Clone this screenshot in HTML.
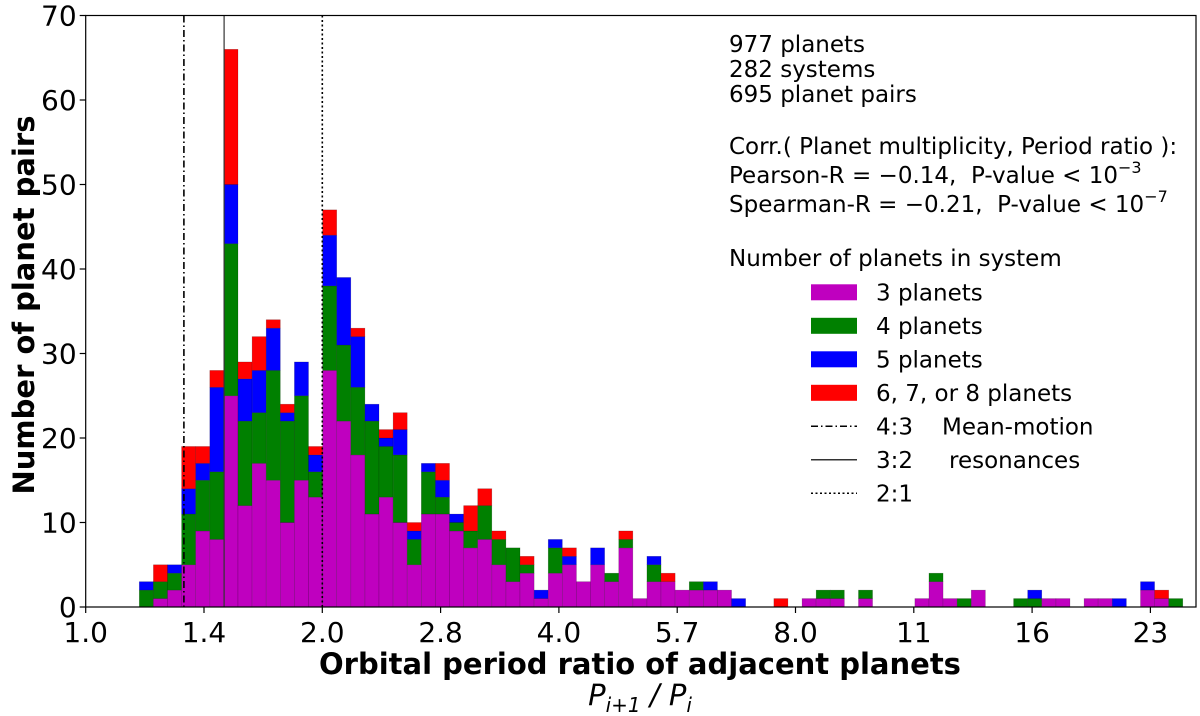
<!DOCTYPE html>
<html><head><meta charset="utf-8">
<style>
html,body{margin:0;padding:0;background:#fff;}
svg{display:block;font-family:"DejaVu Sans","Liberation Sans",sans-serif;}
</style></head>
<body>
<svg id="chart" width="1200" height="716" viewBox="0 0 1200 716" xmlns="http://www.w3.org/2000/svg">
<g id="bars"></g>
<g id="lines"></g>
<g id="axes"></g>
<g id="legend"></g>
</svg>
<script>
// Data: counts per log-spaced bin (74 bins), by planet multiplicity
const binCount = 74;
const binLog2Start = 0.2265;   // log2 of left edge of first bin
const binLog2Width = 0.0596;   // log2 width of each bin
const threePlanets = [0,1,2,5,9,8,25,12,17,15, 10,15,13,28,22,18,11,13,10,5, 11,11,9,7,8,5,3,4,1,4, 5,3,5,3,7,1,3,3,2,2, 2,2,0,0,0,0,0,1,1,1, 0,1,0,0,0,1,3,1,0,2, 0,0,0,0,1,1,0,1,1,0, 0,2,1,0];
const fourPlanets  = [2,2,2,6,6,8,18,10,6,13, 12,10,3,10,9,8,11,6,8,3, 5,2,1,2,4,3,4,1,0,3, 0,0,0,1,1,0,2,0,0,1, 0,0,0,0,0,0,0,0,1,1, 0,1,0,0,0,0,1,0,1,0, 0,0,1,1,0,0,0,0,0,0, 0,0,0,1];
const fivePlanets  = [1,0,1,3,2,10,7,5,5,5, 1,4,2,6,8,6,2,1,3,1, 1,2,1,0,0,0,0,0,1,1, 1,0,2,0,0,0,1,0,0,0, 1,0,1,0,0,0,0,0,0,0, 0,0,0,0,0,0,0,0,0,0, 0,0,0,1,0,0,0,0,0,1, 0,1,0,0];
const sixPlusPlanets = [0,2,0,5,2,2,16,2,4,1, 1,0,1,3,0,1,0,1,2,1, 0,2,0,3,2,1,0,1,0,0, 1,0,0,0,1,0,0,1,0,0, 0,0,0,0,0,1,0,0,0,0, 0,0,0,0,0,0,0,0,0,0, 0,0,0,0,0,0,0,0,0,0, 0,0,1,0];
const seriesNames = ["3 planets","4 planets","5 planets","6, 7, or 8 planets"];
const seriesColors = ["#bf00bf","#008000","#0000ff","#ff0000"];
const yTicks = [0,10,20,30,40,50,60,70];
const xTickValues = [1.0,1.4142,2.0,2.8284,4.0,5.6569,8.0,11.3137,16.0,22.6274];
const xTickLabels = ["1.0","1.4","2.0","2.8","4.0","5.7","8.0","11","16","23"];
const resonances = [4/3, 3/2, 2];
const resonanceLabels = ["4:3","3:2","2:1"];

const NS="http://www.w3.org/2000/svg";
const X0=85.7, PXLOG=236.6, XR=1196, Y0=607, PXU=8.45, YTOP=Y0-70*PXU;
function xl(l){return X0+PXLOG*l;}
function x(r){return xl(Math.log2(r));}
function y(v){return Y0-v*PXU;}
function mk(tag,attrs,parent){const e=document.createElementNS(NS,tag);for(const k in attrs)e.setAttribute(k,attrs[k]);parent.appendChild(e);return e;}

const bars=document.getElementById('bars');
const series=[threePlanets,fourPlanets,fivePlanets,sixPlusPlanets];
for(let k=0;k<binCount;k++){
  const xa=xl(binLog2Start+k*binLog2Width), xb=xl(binLog2Start+(k+1)*binLog2Width);
  let base=0;
  for(let s=0;s<4;s++){
    const v=series[s][k]||0;
    if(v>0){
      const r=mk('rect',{x:xa,y:y(base+v),width:xb-xa,height:v*PXU,fill:seriesColors[s],stroke:'rgba(0,0,0,0.25)','stroke-width':0.6},bars);
      
      
    }
    base+=v;
  }
}

const lines=document.getElementById('lines');
const dashes=["7,3,1.5,3","none","2,2.5"];
for(let i=0;i<resonances.length;i++){
  const l=mk('line',{x1:x(resonances[i]),x2:x(resonances[i]),y1:YTOP,y2:Y0,stroke:i==1?'#333':'#000','stroke-width':i==1?1.2:1.6,'stroke-dasharray':dashes[i]},lines);
  
  
}

const axes=document.getElementById('axes');
const frame=mk('rect',{x:X0,y:YTOP,width:XR-X0,height:Y0-YTOP,fill:'none',stroke:'#000','stroke-width':1.2},axes);


for(const t of yTicks){
  mk('line',{x1:X0-6,x2:X0,y1:y(t),y2:y(t),stroke:'#000','stroke-width':1.2},axes);
  const tx=mk('text',{x:X0-9,y:y(t)+10,'text-anchor':'end','font-size':28},axes);
  tx.textContent=t;
  
  
}
for(let i=0;i<xTickValues.length;i++){
  const px=x(xTickValues[i]);
  mk('line',{x1:px,x2:px,y1:Y0,y2:Y0+6,stroke:'#000','stroke-width':1.2},axes);
  const tx=mk('text',{x:px,y:642,'text-anchor':'middle','font-size':28},axes);
  tx.textContent=xTickLabels[i];
  
  
}
</script>
<script>
(function(){
const NS="http://www.w3.org/2000/svg";
function mk(tag,attrs,parent){const e=document.createElementNS(NS,tag);for(const k in attrs)e.setAttribute(k,attrs[k]);parent.appendChild(e);return e;}
const axes=document.getElementById('axes');
const xt=mk('text',{x:640,y:674,'text-anchor':'middle','font-size':29,'font-weight':'bold'},axes);
xt.textContent='Orbital period ratio of adjacent planets';


const sub=mk('text',{x:640,y:705,'text-anchor':'middle','font-size':29,'font-style':'italic'},axes);
sub.innerHTML='P<tspan font-size="20" dy="7">i+1</tspan><tspan dy="-7"> / P</tspan><tspan font-size="20" dy="7">i</tspan>';


const yt=mk('text',{x:0,y:0,'text-anchor':'middle','font-size':29,'font-weight':'bold',transform:'translate(34,305) rotate(-90)'},axes);
yt.textContent='Number of planet pairs';



const lg=document.getElementById('legend');
const info=[['977 planets',52],['282 systems',77],['695 planet pairs',102],['Corr.( Planet multiplicity, Period ratio ):',154]];
for(const [t,yy] of info){
  const e=mk('text',{x:729,y:yy,'font-size':23},lg);
  e.textContent=t;
  
  
}
const p=mk('text',{x:729,y:183,'font-size':23},lg);
p.innerHTML='Pearson-R = \u22120.14,\u00a0 P-value &lt; 10<tspan font-size="16" dy="-10">\u22123</tspan>';


const s=mk('text',{x:729,y:212,'font-size':23},lg);
s.innerHTML='Spearman-R = \u22120.21,\u00a0 P-value &lt; 10<tspan font-size="16" dy="-10">\u22127</tspan>';


const lt=mk('text',{x:729,y:266,'font-size':23},lg);
lt.textContent='Number of planets in system';


const cols=["#bf00bf","#008000","#0000ff","#ff0000"];
const names=["3 planets","4 planets","5 planets","6, 7, or 8 planets"];
for(let i=0;i<4;i++){
  const cy=292.3+i*33.5;
  const r=mk('rect',{x:811,y:cy-8,width:46,height:16,fill:cols[i]},lg);
  
  
  const t=mk('text',{x:876,y:cy+8,'font-size':23},lg);
  t.textContent=names[i];
  
  
}
const ls=[["7,3,1.5,3",'#000',"4:3","Mean-motion",942],["none",'#333',"3:2","resonances",949],["2,2.5",'#000',"2:1","",0]];
for(let i=0;i<3;i++){
  const cy=292.3+(i+4)*33.5;
  const l=mk('line',{x1:811,x2:857,y1:cy,y2:cy,stroke:ls[i][1],'stroke-width':1.5,'stroke-dasharray':ls[i][0]},lg);
  
  
  const t=mk('text',{x:876,y:cy+8,'font-size':23},lg);
  t.textContent=ls[i][2];
  
  
  if(ls[i][3]){
    const t2=mk('text',{x:ls[i][4],y:cy+8,'font-size':23},lg);
    t2.textContent=ls[i][3];
    
    
  }
}
})();
</script>
</body></html>
